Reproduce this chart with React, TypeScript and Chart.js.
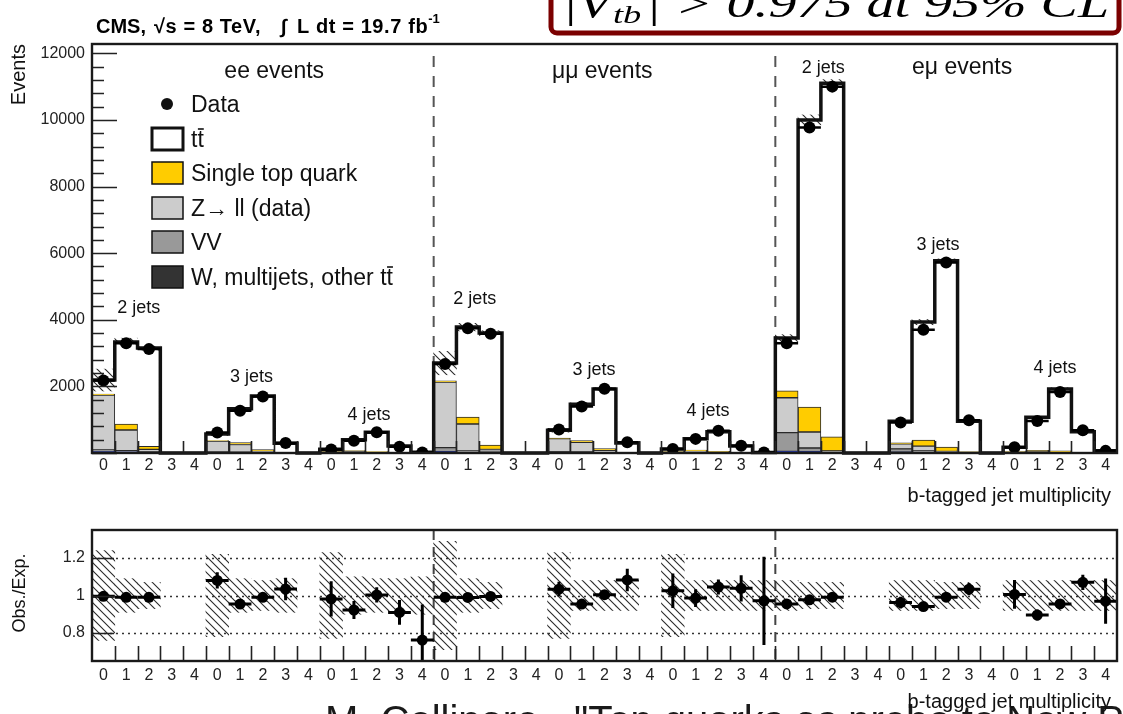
import React, { useEffect, useRef } from 'react';
import { Chart, registerables } from 'chart.js';

Chart.register(...registerables);

const FONT = '"Liberation Sans", Arial, Helvetica, sans-serif';

// Axis tick labels
const bTagLabels = ['0', '1', '2', '3', '4'];
const eventTicks = [2000, 4000, 6000, 8000, 10000, 12000];
const ratioTicks = [0.8, 1, 1.2];
const channelNames = ['ee events', 'μμ events', 'eμ events'];
const jetNames = ['2 jets', '3 jets', '4 jets'];

// 45 bins: ee | μμ | eμ, each split into 2, 3, 4 jets × 0–4 b-tagged jets
const ttbar = [
  420, 2460, 2950, 0, 0, 195, 1020, 1610, 270, 0, 63, 330, 575, 198, 19.5,
  530, 2700, 3365, 0, 0, 230, 1085, 1787, 277, 0, 69, 346, 589, 197, 16,
  1580, 8620, 10615, 0, 0, 645, 3540, 5590, 910, 0, 130, 994, 1854, 621, 63,
];
const singleTop = [
  30, 180, 90, 0, 0, 20, 55, 45, 10, 0, 5, 22, 25, 6, 1,
  40, 210, 130, 0, 0, 20, 55, 50, 10, 0, 6, 25, 25, 6, 1,
  210, 750, 420, 0, 0, 30, 185, 135, 25, 0, 8, 40, 45, 12, 2,
];
const zll = [
  1650, 620, 80, 0, 0, 320, 230, 45, 6, 0, 32, 40, 15, 4, 0.5,
  1970, 810, 80, 0, 0, 390, 290, 70, 10, 0, 35, 50, 20, 5, 0.5,
  1050, 480, 40, 0, 0, 150, 140, 30, 10, 0, 20, 30, 15, 5, 1,
];
const diboson = [
  50, 40, 20, 0, 0, 20, 15, 5, 2, 0, 6, 5, 3, 1, 0,
  120, 40, 15, 0, 0, 25, 20, 8, 2, 0, 6, 6, 4, 1, 0,
  560, 110, 15, 0, 0, 100, 50, 10, 3, 0, 8, 8, 4, 1, 0,
];
const wMultijets = [
  40, 30, 10, 0, 0, 15, 10, 5, 2, 0, 4, 3, 2, 1, 0,
  40, 20, 10, 0, 0, 15, 10, 5, 1, 0, 4, 3, 2, 1, 0,
  50, 40, 10, 0, 0, 25, 15, 5, 2, 0, 4, 3, 2, 1, 0,
];
const observed: (number | null)[] = [
  2180, 3297, 3119, null, null, 616, 1269, 1693, 300, null, 108, 369, 622, 191, 16,
  2673, 3742, 3582, null, null, 703, 1393, 1928, 325, null, 123, 424, 669, 218, 17,
  3295, 9770, 11000, null, null, 914, 3698, 5718, 982, null, 171, 963, 1834, 685, 64,
];
// relative uncertainty band of the expectation, upper panel
const yieldUnc = [
  0.15, 0.035, 0.02, 0, 0, 0.08, 0.03, 0.02, 0.03, 0, 0.08, 0.03, 0.03, 0.03, 0.05,
  0.13, 0.03, 0.02, 0, 0, 0.08, 0.03, 0.02, 0.03, 0, 0.08, 0.03, 0.03, 0.03, 0.05,
  0.03, 0.015, 0.01, 0, 0, 0.03, 0.02, 0.01, 0.02, 0, 0.03, 0.02, 0.02, 0.02, 0.05,
];
// relative uncertainty band of the expectation, ratio panel
const ratioUnc = [
  0.24, 0.09, 0.07, 0, 0, 0.22, 0.09, 0.08, 0.09, 0, 0.23, 0.1, 0.09, 0.09, 0.1,
  0.29, 0.09, 0.07, 0, 0, 0.23, 0.08, 0.08, 0.08, 0, 0.22, 0.08, 0.08, 0.08, 0.08,
  0.08, 0.07, 0.07, 0, 0, 0.08, 0.08, 0.07, 0.07, 0, 0.08, 0.08, 0.08, 0.08, 0.08,
];

// text anchors in axis units (bin, events)
const channelLabelPos = [[8.0, 11440], [22.4, 11440], [38.2, 11560]];
const jetLabelPos = [
  [2.05, 4354], [7.0, 2282], [12.16, 1141],
  [16.8, 4625], [22.04, 2492], [27.04, 1261],
  [32.1, 11560], [37.14, 6246], [42.28, 2552],
];

const NBINS = ttbar.length;
const centers = ttbar.map((_, i) => i + 0.5);
const mcTotal = ttbar.map((_, i) => ttbar[i] + singleTop[i] + zll[i] + diboson[i] + wMultijets[i]);
const ratio = observed.map((v, i) => (v != null && mcTotal[i] > 0 ? v / mcTotal[i] : null));
const ratioErr = observed.map((v, i) => (v != null && mcTotal[i] > 0 ? Math.sqrt(v) / mcTotal[i] : null));

function hatchPattern(): CanvasPattern {
  const s = 8;
  const c = document.createElement('canvas');
  c.width = s;
  c.height = s;
  const g = c.getContext('2d')!;
  g.strokeStyle = '#2b2b2b';
  g.lineWidth = 1.1;
  g.beginPath();
  g.moveTo(0, 0);
  g.lineTo(s, s);
  g.moveTo(-2, s - 2);
  g.lineTo(2, s + 2);
  g.moveTo(s - 2, -2);
  g.lineTo(s + 2, 2);
  g.stroke();
  return g.createPattern(c, 'repeat')!;
}

const barBase = { type: 'bar', grouped: false, barPercentage: 1, categoryPercentage: 1 };

function mcBar(label: string, arr: number[], color: string, border: number) {
  return {
    ...barBase,
    label,
    data: arr.map((v, i) => ({ x: centers[i], y: v > 0 ? v : null })),
    backgroundColor: color,
    borderColor: '#2a2a2a',
    borderWidth: border,
    borderSkipped: false,
    stack: 'mc',
    order: 10,
  };
}

function xScale(height: number, pad: number) {
  return {
    type: 'linear',
    min: 0,
    max: NBINS,
    offset: false,
    grid: { display: false, drawTicks: false },
    border: { display: false },
    afterBuildTicks: (s: any) => {
      s.ticks = centers.map((v) => ({ value: v }));
    },
    afterFit: (s: any) => {
      s.height = height;
    },
    ticks: {
      autoSkip: false,
      maxRotation: 0,
      minRotation: 0,
      padding: pad,
      color: '#222',
      font: { family: FONT, size: 16 },
      callback: (_v: any, i: number) => bTagLabels[i % 5],
    },
  };
}

function drawTTbar(ctx: CanvasRenderingContext2D, prefix: string, x: number, base: number) {
  ctx.fillText(prefix + 'tt', x, base);
  const w1 = ctx.measureText(prefix + 't').width;
  const wt = ctx.measureText('t').width;
  ctx.save();
  ctx.lineWidth = 1.6;
  ctx.strokeStyle = ctx.fillStyle as string;
  ctx.beginPath();
  ctx.moveTo(x + w1 + 0.5, base - 18);
  ctx.lineTo(x + w1 + wt, base - 18);
  ctx.stroke();
  ctx.restore();
}

function drawSeparators(chart: any, fromTop: number, dash: number[], color: string) {
  const { ctx, chartArea: a, scales } = chart;
  ctx.save();
  ctx.strokeStyle = color;
  ctx.lineWidth = 2;
  ctx.setLineDash(dash);
  [15, 30].forEach((v) => {
    const px = scales.x.getPixelForValue(v);
    ctx.beginPath();
    ctx.moveTo(px, a.top + fromTop);
    ctx.lineTo(px, a.bottom);
    ctx.stroke();
  });
  ctx.restore();
}

function drawEdgeTicks(chart: any, len: number) {
  const { ctx, chartArea: a, scales } = chart;
  ctx.beginPath();
  for (let k = 1; k < NBINS; k++) {
    const px = Math.round(scales.x.getPixelForValue(k)) + 0.5;
    ctx.moveTo(px, a.bottom);
    ctx.lineTo(px, a.bottom - len);
  }
  ctx.stroke();
}

const topPlugin = {
  id: 'topDecor',
  beforeDatasetsDraw(chart: any) {
    drawSeparators(chart, 12, [11, 9], '#555');
  },
  afterDatasetsDraw(chart: any) {
    const { ctx, chartArea: a, scales } = chart;
    const { x, y } = scales;
    ctx.save();
    // statistical error bars of the data
    ctx.strokeStyle = '#000';
    ctx.lineWidth = 2.5;
    observed.forEach((v, i) => {
      if (v == null) return;
      const e = Math.sqrt(v);
      const cy = y.getPixelForValue(v);
      ctx.beginPath();
      ctx.moveTo(x.getPixelForValue(i), cy);
      ctx.lineTo(x.getPixelForValue(i + 1), cy);
      ctx.moveTo(x.getPixelForValue(centers[i]), y.getPixelForValue(v - e));
      ctx.lineTo(x.getPixelForValue(centers[i]), y.getPixelForValue(v + e));
      ctx.stroke();
    });
    // axis ticks
    ctx.strokeStyle = '#222';
    ctx.lineWidth = 1.6;
    const major = eventTicks[1] - eventTicks[0];
    const minor = major / 5;
    ctx.beginPath();
    for (let v = 0; v <= y.max; v += minor) {
      const py = Math.round(y.getPixelForValue(v)) + 0.5;
      const len = v % major === 0 ? 25 : 12;
      ctx.moveTo(a.left, py);
      ctx.lineTo(a.left + len, py);
    }
    ctx.stroke();
    drawEdgeTicks(chart, 12);
    // frame
    ctx.lineWidth = 2.4;
    ctx.strokeStyle = '#1a1a1a';
    ctx.strokeRect(a.left, a.top, a.right - a.left, a.bottom - a.top);
    ctx.restore();
  },
  afterDraw(chart: any) {
    const { ctx, scales } = chart;
    const { x, y } = scales;
    ctx.save();
    ctx.fillStyle = '#111';
    ctx.textBaseline = 'alphabetic';
    ctx.textAlign = 'left';

    // header
    ctx.font = `bold 20px ${FONT}`;
    ctx.fillStyle = '#000';
    ctx.fillText('CMS,', 96, 33);
    (ctx as any).letterSpacing = '0.6px';
    ctx.fillText('√s = 8 TeV,', 154, 33);
    ctx.fillText('∫', 281, 33);
    ctx.fillText('L dt = 19.7 fb', 297, 33);
    const wLum = ctx.measureText('L dt = 19.7 fb').width;
    (ctx as any).letterSpacing = '0px';
    ctx.font = `bold 13px ${FONT}`;
    ctx.fillText('-1', 297 + wLum, 23);

    // result box
    ctx.lineWidth = 5;
    ctx.strokeStyle = '#7b0000';
    ctx.beginPath();
    (ctx as any).roundRect(551, -20, 568, 53, 6);
    ctx.stroke();
    const p1 = '|V';
    const p2 = 'tb';
    const p3 = '| > 0.975 at 95% CL';
    ctx.font = `italic 40px "Liberation Serif", serif`;
    const w1 = ctx.measureText(p1).width;
    const w3 = ctx.measureText(p3).width;
    ctx.font = `italic 26px "Liberation Serif", serif`;
    const w2 = ctx.measureText(p2).width;
    const sx = (1109 - 562) / (w1 + w2 + w3 + 4);
    ctx.save();
    ctx.translate(562, 17);
    ctx.scale(sx, 1);
    ctx.fillStyle = '#000';
    ctx.font = `italic 40px "Liberation Serif", serif`;
    ctx.fillText(p1, 0, 0);
    ctx.font = `italic 26px "Liberation Serif", serif`;
    ctx.fillText(p2, w1 + 1, 6);
    ctx.font = `italic 40px "Liberation Serif", serif`;
    ctx.fillText(p3, w1 + w2 + 4, 0);
    ctx.restore();

    // channel and jet-multiplicity labels
    ctx.fillStyle = '#111';
    ctx.textAlign = 'center';
    ctx.textBaseline = 'middle';
    ctx.font = `23px ${FONT}`;
    channelLabelPos.forEach(([vx, vy], i) => {
      ctx.fillText(channelNames[i], x.getPixelForValue(vx), y.getPixelForValue(vy));
    });
    ctx.font = `18px ${FONT}`;
    jetLabelPos.forEach(([vx, vy], i) => {
      ctx.fillText(jetNames[i % 3], x.getPixelForValue(vx), y.getPixelForValue(vy));
    });

    // legend
    ctx.textAlign = 'left';
    ctx.textBaseline = 'alphabetic';
    ctx.font = `23px ${FONT}`;
    const lx = 152;
    const tx = 191;
    ctx.beginPath();
    ctx.arc(167, 104, 6, 0, Math.PI * 2);
    ctx.fill();
    ctx.fillText('Data', tx, 104 + 8);
    const boxes: [number, string, number][] = [
      [139, '#ffffff', 3],
      [173, '#ffcc00', 1.5],
      [208, '#cccccc', 1.5],
      [242, '#999999', 1.5],
      [277, '#333333', 1.5],
    ];
    boxes.forEach(([cy, col, lw]) => {
      ctx.fillStyle = col;
      ctx.fillRect(lx, cy - 11, 31, 22);
      ctx.lineWidth = lw;
      ctx.strokeStyle = '#111';
      ctx.strokeRect(lx, cy - 11, 31, 22);
    });
    ctx.fillStyle = '#111';
    drawTTbar(ctx, '', tx, 139 + 8);
    ctx.fillText('Single top quark', tx, 173 + 8);
    ctx.fillText('Z→ ll (data)', tx, 208 + 8);
    ctx.fillText('VV', tx, 242 + 8);
    drawTTbar(ctx, 'W, multijets, other ', tx, 277 + 8);

    // axis titles
    ctx.font = `20px ${FONT}`;
    ctx.textAlign = 'right';
    ctx.fillText('b-tagged jet multiplicity', 1111, 502);
    ctx.save();
    ctx.translate(25, 44);
    ctx.rotate(-Math.PI / 2);
    ctx.textAlign = 'right';
    ctx.fillText('Events', 0, 0);
    ctx.restore();
    ctx.restore();
  },
};

const ratioPlugin = {
  id: 'ratioDecor',
  beforeDraw(chart: any) {
    const { ctx } = chart;
    ctx.save();
    ctx.fillStyle = '#1a1a1a';
    ctx.font = `40px ${FONT}`;
    ctx.textAlign = 'left';
    ctx.textBaseline = 'alphabetic';
    ctx.fillText('M. Cellinaro - "Top quarks as probe to New Physics"', 325, 224);
    ctx.restore();
  },
  beforeDatasetsDraw(chart: any) {
    const { ctx, chartArea: a, scales } = chart;
    ctx.save();
    ctx.strokeStyle = '#333';
    ctx.lineWidth = 1.6;
    ctx.setLineDash([2, 4]);
    ratioTicks.forEach((v) => {
      const py = Math.round(scales.y.getPixelForValue(v)) + 0.5;
      ctx.beginPath();
      ctx.moveTo(a.left, py);
      ctx.lineTo(a.right, py);
      ctx.stroke();
    });
    ctx.restore();
    drawSeparators(chart, 0, [10, 7], '#444');
  },
  afterDatasetsDraw(chart: any) {
    const { ctx, chartArea: a, scales } = chart;
    const { x, y } = scales;
    ctx.save();
    ctx.beginPath();
    ctx.rect(a.left, a.top, a.right - a.left, a.bottom - a.top);
    ctx.clip();
    ctx.strokeStyle = '#000';
    ctx.lineWidth = 3;
    ratio.forEach((r, i) => {
      if (r == null) return;
      const e = ratioErr[i] as number;
      const cy = y.getPixelForValue(r);
      ctx.beginPath();
      ctx.moveTo(x.getPixelForValue(i), cy);
      ctx.lineTo(x.getPixelForValue(i + 1), cy);
      ctx.moveTo(x.getPixelForValue(centers[i]), y.getPixelForValue(r - e));
      ctx.lineTo(x.getPixelForValue(centers[i]), y.getPixelForValue(r + e));
      ctx.stroke();
    });
    ctx.restore();
    ctx.save();
    ctx.strokeStyle = '#222';
    ctx.lineWidth = 1.6;
    ctx.beginPath();
    ratioTicks.forEach((v) => {
      const py = Math.round(y.getPixelForValue(v)) + 0.5;
      ctx.moveTo(a.left, py);
      ctx.lineTo(a.left + 22, py);
    });
    ctx.stroke();
    drawEdgeTicks(chart, 15);
    ctx.lineWidth = 2.4;
    ctx.strokeStyle = '#1a1a1a';
    ctx.strokeRect(a.left, a.top, a.right - a.left, a.bottom - a.top);
    ctx.restore();
  },
  afterDraw(chart: any) {
    const { ctx } = chart;
    ctx.save();
    ctx.fillStyle = '#111';
    ctx.font = `20px ${FONT}`;
    ctx.textAlign = 'right';
    ctx.textBaseline = 'alphabetic';
    ctx.fillText('b-tagged jet multiplicity', 1111, 198);
    ctx.font = `18px ${FONT}`;
    ctx.translate(25, 83);
    ctx.rotate(-Math.PI / 2);
    ctx.textAlign = 'center';
    ctx.fillText('Obs./Exp.', 0, 0);
    ctx.restore();
  },
};

function topConfig(pattern: CanvasPattern): any {
  return {
    type: 'bar',
    data: {
      datasets: [
        mcBar('W, multijets, other tt', wMultijets, '#22349a', 0),
        mcBar('VV', diboson, '#999999', 1),
        mcBar('Z→ll (data)', zll, '#cccccc', 1),
        mcBar('Single top quark', singleTop, '#ffcc00', 1),
        mcBar('tt', ttbar, '#ffffff', 0),
        {
          ...barBase,
          label: 'Uncertainty',
          data: mcTotal.map((t, i) => ({
            x: centers[i],
            y: t > 0 && yieldUnc[i] > 0 ? [t * (1 - yieldUnc[i]), t * (1 + yieldUnc[i])] : null,
          })),
          backgroundColor: pattern,
          borderWidth: 0,
          stack: 'unc',
          order: 6,
        },
        {
          type: 'line',
          label: 'Total expectation',
          data: [...mcTotal.map((t, i) => ({ x: i, y: t })), { x: NBINS, y: mcTotal[NBINS - 1] }],
          stepped: true,
          borderColor: '#111',
          borderWidth: 3.5,
          pointRadius: 0,
          fill: false,
          stack: 'step',
          order: 4,
          clip: false,
        },
        {
          type: 'line',
          label: 'Data',
          data: observed
            .map((v, i) => (v == null ? null : { x: centers[i], y: v }))
            .filter((p) => p !== null),
          showLine: false,
          pointRadius: 6,
          pointBackgroundColor: '#000',
          pointBorderWidth: 0,
          stack: 'obs',
          order: 1,
        },
      ],
    },
    options: {
      responsive: false,
      animation: false,
      devicePixelRatio: 1,
      events: [],
      layout: { padding: { top: 44, right: 6, left: 0, bottom: 0 } },
      plugins: { legend: { display: false }, tooltip: { enabled: false } },
      scales: {
        x: xScale(57, 3),
        y: {
          type: 'linear',
          stacked: true,
          min: 0,
          max: 12280,
          grid: { display: false, drawTicks: false },
          border: { display: false },
          afterBuildTicks: (s: any) => {
            s.ticks = eventTicks.map((v) => ({ value: v }));
          },
          afterFit: (s: any) => {
            s.width = 92;
          },
          ticks: { padding: 7, color: '#222', font: { family: FONT, size: 16 }, callback: (v: any) => String(v) },
        },
      },
    },
    plugins: [topPlugin],
  };
}

function ratioConfig(pattern: CanvasPattern): any {
  return {
    type: 'bar',
    data: {
      datasets: [
        {
          ...barBase,
          label: 'Uncertainty',
          data: mcTotal.map((t, i) => ({
            x: centers[i],
            y: t > 0 && ratioUnc[i] > 0 ? [1 - ratioUnc[i], 1 + ratioUnc[i]] : null,
          })),
          backgroundColor: pattern,
          borderWidth: 0,
          order: 6,
        },
        {
          type: 'line',
          label: 'Obs./Exp.',
          data: ratio
            .map((r, i) => (r == null ? null : { x: centers[i], y: r }))
            .filter((p) => p !== null),
          showLine: false,
          pointRadius: 5.5,
          pointBackgroundColor: '#000',
          pointBorderWidth: 0,
          order: 1,
        },
      ],
    },
    options: {
      responsive: false,
      animation: false,
      devicePixelRatio: 1,
      events: [],
      layout: { padding: { top: 20, right: 6, left: 0, bottom: 0 } },
      plugins: { legend: { display: false }, tooltip: { enabled: false } },
      scales: {
        x: xScale(53, 5),
        y: {
          type: 'linear',
          min: 0.65,
          max: 1.35,
          grid: { display: false, drawTicks: false },
          border: { display: false },
          afterBuildTicks: (s: any) => {
            s.ticks = ratioTicks.map((v) => ({ value: v }));
          },
          afterFit: (s: any) => {
            s.width = 92;
          },
          ticks: {
            padding: 7,
            color: '#222',
            font: { family: FONT, size: 16 },
            callback: (v: any) => (v === 1 ? '1' : Number(v).toFixed(1)),
          },
        },
      },
    },
    plugins: [ratioPlugin],
  };
}

export default function App() {
  const topRef = useRef<HTMLCanvasElement>(null);
  const ratioRef = useRef<HTMLCanvasElement>(null);

  useEffect(() => {
    const pattern = hatchPattern();
    const top = new Chart(topRef.current!, topConfig(pattern));
    const bottom = new Chart(ratioRef.current!, ratioConfig(pattern));
    return () => {
      top.destroy();
      bottom.destroy();
    };
  }, []);

  return (
    <div
      style={{
        position: 'fixed',
        left: 0,
        top: 0,
        width: 1123,
        height: 714,
        overflow: 'hidden',
        background: '#ffffff',
      }}
    >
      <canvas ref={topRef} width={1123} height={510} style={{ position: 'absolute', left: 0, top: 0 }} />
      <canvas ref={ratioRef} width={1123} height={204} style={{ position: 'absolute', left: 0, top: 510 }} />
    </div>
  );
}
